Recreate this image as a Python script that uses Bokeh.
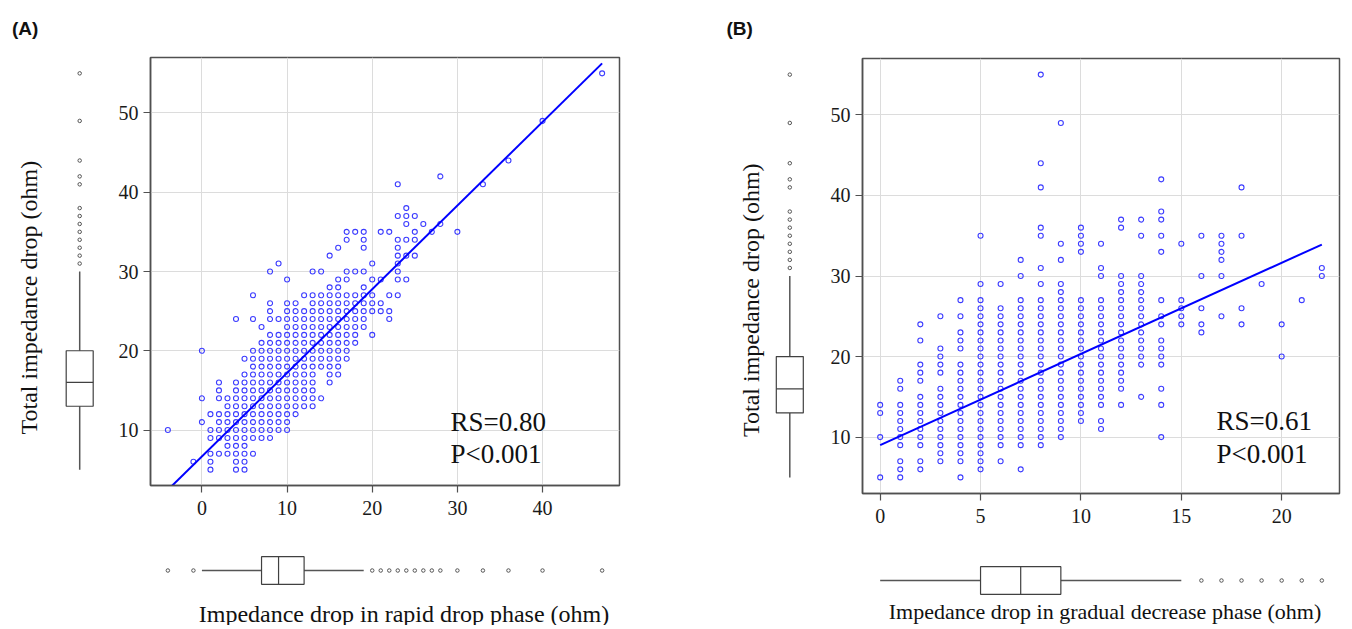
import math
from bokeh.plotting import figure
from bokeh.models import Range1d, FixedTicker, Spacer
from bokeh.layouts import row, column
from bokeh.embed import file_html
from bokeh.resources import INLINE
from bokeh.core.properties import value

# ---------------- data ----------------
# Panel A: impedance drop in rapid drop phase (x) vs total impedance drop (y)
a_x_vals = [-4, -1, 0, 1, 2, 3, 4, 5, 6, 7, 8, 9, 10, 11, 12, 13, 14, 15, 16, 17,
            18, 19, 20, 21, 22, 23, 24, 25, 26, 27, 28, 30, 33, 36, 40, 47]
a_y_sets = [
    [10], [6], [11, 14, 20], [5, 6, 7, 9, 10, 12],
    [7, 9, 10, 11, 12, 14, 15, 16],
    [7, 8, 9, 10, 11, 12, 13, 14],
    [5, 6, 7, 8, 9, 10, 11, 12, 13, 14, 15, 16, 24],
    [5, 6, 7, 8, 9, 10, 11, 12, 13, 14, 15, 16, 17, 19],
    [7, 9, 10, 11, 12, 13, 14, 15, 16, 17, 18, 19, 20, 24, 27],
    [9, 10, 11, 12, 13, 14, 15, 16, 17, 18, 19, 20, 21, 23],
    [9, 10, 11, 12, 13, 14, 15, 16, 17, 18, 19, 20, 21, 22, 24, 25, 26, 30],
    [10, 11, 12, 13, 14, 15, 16, 17, 18, 19, 20, 21, 22, 24, 31],
    [10, 11, 12, 13, 14, 15, 16, 17, 18, 19, 20, 21, 22, 23, 24, 25, 26, 29],
    [12, 13, 14, 15, 16, 17, 18, 19, 20, 21, 22, 23, 24, 25, 26],
    [13, 14, 15, 16, 17, 18, 19, 20, 21, 22, 23, 24, 25, 27],
    [13, 14, 15, 16, 17, 18, 19, 20, 21, 22, 23, 24, 25, 26, 27, 30],
    [14, 18, 19, 20, 21, 22, 23, 24, 25, 26, 27, 30],
    [16, 17, 18, 19, 20, 21, 22, 23, 24, 25, 26, 27, 28, 32],
    [17, 18, 19, 20, 21, 22, 23, 24, 25, 26, 27, 28, 29, 33],
    [19, 20, 21, 22, 23, 24, 25, 26, 27, 29, 30, 34, 35],
    [21, 22, 23, 24, 25, 26, 27, 30, 35],
    [23, 24, 25, 26, 27, 28, 30, 33, 34, 35],
    [22, 25, 26, 27, 29, 31],
    [25, 26, 29, 35],
    [24, 25, 27, 35],
    [27, 29, 30, 31, 32, 33, 34, 37, 41],
    [29, 32, 34, 36, 37, 38],
    [32, 34, 35, 37],
    [36], [35], [36, 42], [35], [41], [44], [49], [55],
]
a_intercept = 6.67
a_slope = 1.055
a_rs_text = "RS=0.80"
a_p_text = "P<0.001"

# Panel B: impedance drop in gradual decrease phase (x) vs total impedance drop (y)
b_x_vals = list(range(0, 23))
b_y_sets = [
    [5, 10, 13, 14],
    [5, 6, 7, 9, 10, 11, 12, 13, 14, 16, 17],
    [6, 7, 9, 10, 11, 12, 13, 14, 15, 17, 18, 19, 22, 24],
    [7, 8, 9, 10, 11, 12, 13, 14, 15, 16, 18, 19, 20, 21, 25],
    [5, 7, 8, 9, 10, 11, 12, 13, 14, 15, 16, 17, 18, 19, 21, 22, 23, 25, 27],
    [6, 7, 8, 9, 10, 11, 12, 13, 14, 15, 16, 17, 18, 19, 20, 21, 22, 23, 24, 25, 26, 27, 29, 35],
    [7, 9, 10, 11, 12, 13, 14, 15, 16, 17, 18, 19, 20, 21, 22, 23, 24, 25, 26, 29],
    [6, 9, 10, 11, 12, 13, 14, 15, 16, 17, 18, 19, 20, 21, 22, 23, 24, 25, 26, 27, 30, 32],
    [9, 10, 11, 12, 13, 14, 15, 16, 17, 18, 19, 20, 21, 22, 23, 24, 25, 26, 27, 29, 31, 35, 36, 41, 44, 55],
    [10, 11, 12, 13, 14, 15, 16, 17, 18, 19, 20, 21, 22, 23, 24, 25, 26, 27, 28, 29, 32, 34, 49],
    [12, 13, 14, 15, 16, 17, 18, 19, 20, 21, 22, 23, 24, 25, 26, 27, 33, 34, 35, 36],
    [11, 12, 14, 15, 16, 17, 18, 19, 20, 21, 22, 23, 24, 25, 26, 27, 30, 31, 34],
    [14, 16, 17, 18, 19, 20, 21, 22, 23, 24, 25, 26, 27, 28, 29, 30, 36, 37],
    [15, 19, 20, 21, 22, 23, 24, 25, 26, 27, 28, 29, 30, 35, 37],
    [10, 14, 16, 19, 20, 21, 22, 24, 25, 27, 33, 35, 37, 38, 42],
    [24, 25, 26, 27, 34],
    [23, 24, 26, 30, 35],
    [25, 30, 32, 33, 34, 35],
    [24, 26, 35, 41],
    [29],
    [20, 24],
    [27],
    [30, 31],
]
b_intercept = 9.0
b_slope = 1.132
b_rs_text = "RS=0.61"
b_p_text = "P<0.001"

# Boxplot summaries (q1, median, q3, lower whisker, upper whisker) and outliers
total_box = [13, 16, 20, 5, 30]
total_outliers = [31, 32, 33, 34, 35, 36, 37, 38, 41, 42, 44, 49, 55]
rapid_box = [7, 9, 12, 0, 19]
rapid_outliers = [-4, -1, 20, 21, 22, 23, 24, 25, 26, 27, 28, 30, 33, 36, 40, 47]
gradual_box = [5, 7, 9, 0, 15]
gradual_outliers = [16, 17, 18, 19, 20, 21, 22]

# Axis ticks and titles
a_xticks = [0, 10, 20, 30, 40]
b_xticks = [0, 5, 10, 15, 20]
yticks = [10, 20, 30, 40, 50]
y_title = "Total impedance drop (ohm)"
a_x_title = "Impedance drop in rapid drop phase (ohm)"
b_x_title = "Impedance drop in gradual decrease phase (ohm)"
panel_titles = ["(A)", "(B)"]

# ---------------- styling helpers ----------------
SERIF = "Liberation Serif"
SANS = "Liberation Sans"
FRAME_COL = "#505050"
BOX_COL = "#404040"
PT_COL = "#3c3cff"


def expand(xs, ysets):
    px, py = [], []
    for x, ys in zip(xs, ysets):
        for y in ys:
            px.append(x)
            py.append(y)
    return px, py


def padded(vals, frac=0.04):
    lo, hi = min(vals), max(vals)
    d = (hi - lo) * frac
    return Range1d(lo - d, hi + d)


def bare(p):
    p.grid.visible = False
    p.outline_line_color = None
    p.background_fill_color = "white"
    p.border_fill_color = "white"


def main_fig(xr, yr, width, height, top, right, xticks, px, py, icpt, slope,
             rs_text, p_text, rs_x, rs_y, p_y):
    p = figure(width=width, height=height, x_range=xr, y_range=yr,
               output_backend="svg", toolbar_location=None,
               min_border_left=50, min_border_right=right,
               min_border_top=top, min_border_bottom=40)
    p.xaxis.ticker = FixedTicker(ticks=xticks)
    p.yaxis.ticker = FixedTicker(ticks=yticks)
    for ax in (p.xaxis[0], p.yaxis[0]):
        ax.axis_line_color = FRAME_COL
        ax.axis_line_width = 1.5
        ax.major_tick_line_color = FRAME_COL
        ax.major_tick_line_width = 1.2
        ax.major_tick_out = 7
        ax.major_tick_in = 0
        ax.minor_tick_line_color = None
        ax.major_label_text_font = SERIF
        ax.major_label_text_font_size = "20px"
        ax.major_label_text_color = "#1a1a1a"
    p.xaxis.major_label_standoff = 8
    p.yaxis.major_label_standoff = 5
    p.grid.grid_line_color = "#dcdcdc"
    p.grid.grid_line_width = 1
    p.outline_line_color = FRAME_COL
    p.outline_line_width = 1.5
    p.background_fill_color = "white"
    p.border_fill_color = "white"
    p.scatter(px, py, marker="circle", size=5, fill_color=None,
              line_color=PT_COL, line_width=1.1)
    x0, x1 = min(px), max(px)
    p.line([x0, x1], [icpt + slope * x0, icpt + slope * x1],
           line_color="#0000ff", line_width=2)
    p.text(x=[rs_x, rs_x], y=[rs_y, p_y], text=[rs_text, p_text],
           text_font=value(SERIF), text_font_size="27px",
           text_align="left", text_baseline="alphabetic", text_color="#111111")
    return p


def left_box(width, height, top, yr, cx, stats, outliers, tx, ty):
    p = figure(width=width, height=height, x_range=Range1d(0, width), y_range=yr,
               output_backend="svg", toolbar_location=None,
               x_axis_location=None, y_axis_location=None,
               min_border_left=0, min_border_right=0,
               min_border_top=top, min_border_bottom=40)
    bare(p)
    q1, med, q3, wl, wh = stats
    hw = 13.5
    p.segment(x0=[cx, cx], y0=[wl, q3], x1=[cx, cx], y1=[q1, wh],
              line_color="#555555", line_width=1.5)
    p.quad(left=[cx - hw], right=[cx + hw], bottom=[q1], top=[q3],
           fill_color=None, line_color=BOX_COL, line_width=1.2)
    p.segment(x0=[cx - hw], y0=[med], x1=[cx + hw], y1=[med],
              line_color=BOX_COL, line_width=1.2)
    p.scatter([cx] * len(outliers), outliers, marker="circle", size=3.5,
              fill_color=None, line_color="#555555", line_width=1)
    p.text(x=[tx], y=[ty], text=[y_title], angle=math.pi / 2,
           text_font=value(SERIF), text_font_size="24px",
           text_align="center", text_baseline="alphabetic", text_color="#111111")
    return p


def bottom_box(width, height, right, xr, cy, stats, outliers, title, ty, toff, fsize):
    p = figure(width=width, height=height, x_range=xr, y_range=Range1d(height, 0),
               output_backend="svg", toolbar_location=None,
               x_axis_location=None, y_axis_location=None,
               min_border_left=50, min_border_right=right,
               min_border_top=0, min_border_bottom=0)
    bare(p)
    q1, med, q3, wl, wh = stats
    hh = 13.8
    p.segment(x0=[wl, q3], y0=[cy, cy], x1=[q1, wh], y1=[cy, cy],
              line_color="#555555", line_width=1.5)
    p.quad(left=[q1], right=[q3], bottom=[cy + hh], top=[cy - hh],
           fill_color=None, line_color=BOX_COL, line_width=1.2)
    p.segment(x0=[med], y0=[cy - hh], x1=[med], y1=[cy + hh],
              line_color=BOX_COL, line_width=1.2)
    p.scatter(outliers, [cy] * len(outliers), marker="circle", size=3.5,
              fill_color=None, line_color="#555555", line_width=1)
    xc = (xr.start + xr.end) / 2
    p.text(x=[xc], y=[ty], text=[title], x_offset=toff,
           text_font=value(SERIF), text_font_size=fsize,
           text_align="center", text_baseline="alphabetic", text_color="#111111")
    return p


# ---------------- build ----------------
ax_pts, ay_pts = expand(a_x_vals, a_y_sets)
bx_pts, by_pts = expand(b_x_vals, b_y_sets)

a_xr = padded(ax_pts)
b_xr = padded(bx_pts)
a_yr = padded(ay_pts)
b_yr = padded(by_pts)

mainA = main_fig(a_xr, a_yr, 529, 477, 9, 10, a_xticks, ax_pts, ay_pts,
                 a_intercept, a_slope, a_rs_text, a_p_text, 29.2, 11, 7)
mainB = main_fig(b_xr, b_yr, 540, 485, 10, 13, b_xticks, bx_pts, by_pts,
                 b_intercept, b_slope, b_rs_text, b_p_text, 16.75, 12, 7.9)

leftA = left_box(100, 477, 9, a_yr, 79.2, total_box, total_outliers, 28, 26.7)
leftB = left_box(183, 485, 10, b_yr, 160.3, total_box, total_outliers, 121, 27)

bottomA = bottom_box(529, 100, 10, a_xr, 45, rapid_box, rapid_outliers, a_x_title, 88, 19, "24px")
bottomB = bottom_box(540, 92, 13, b_xr, 47, gradual_box, gradual_outliers, b_x_title, 78, 4, "22px")

strip = figure(width=1352, height=48, x_range=Range1d(0, 1352), y_range=Range1d(48, 0),
               output_backend="svg", toolbar_location=None,
               x_axis_location=None, y_axis_location=None, min_border=0)
bare(strip)
strip.text(x=[11.5, 726], y=[27.5, 27.5], text=panel_titles,
           text_font=value(SANS), text_font_style="bold", text_font_size="19px",
           text_align="left", text_baseline="alphabetic", text_color="#111111")

layout = column(
    strip,
    row(
        column(leftA, Spacer(width=100, height=100)),
        column(mainA, bottomA),
        column(leftB, Spacer(width=183, height=92)),
        column(mainB, bottomB),
    ),
)

with open("out.html", "w") as f:
    f.write(file_html(layout, INLINE))
